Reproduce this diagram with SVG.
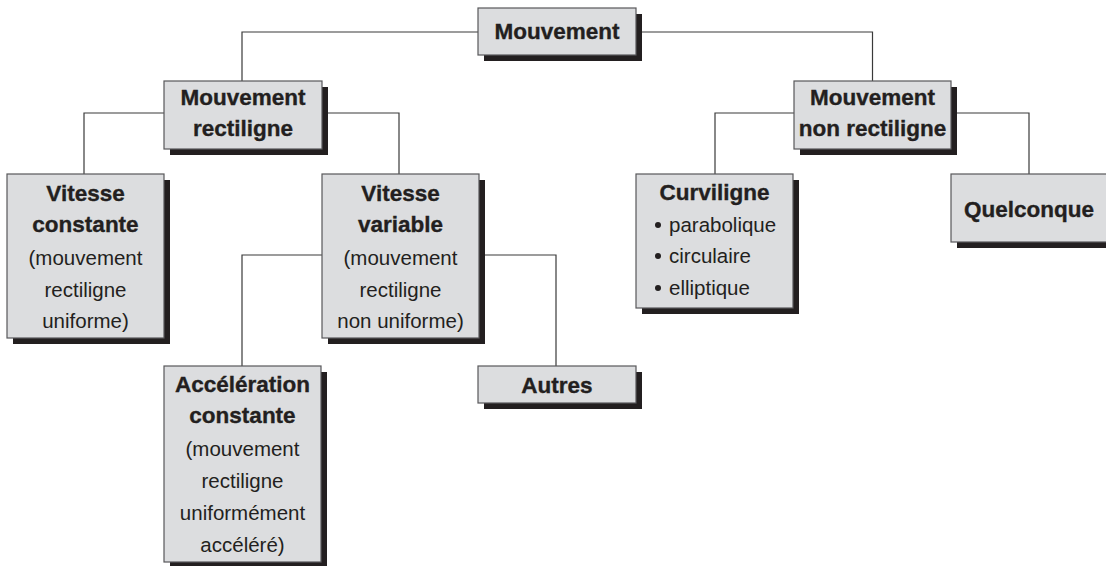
<svg xmlns="http://www.w3.org/2000/svg" width="1106" height="566" viewBox="0 0 1106 566">
  <style>
    .shadow { fill: #231f20; }
    .box { fill: #dcdddf; stroke: #58585a; stroke-width: 1.2; }
    .link { fill: none; stroke: #3a3a3a; stroke-width: 1.2; }
    text { font-family: "Liberation Sans", Arial, sans-serif; fill: #231f20; text-anchor: middle; }
    .h { font-weight: bold; font-size: 22.5px; stroke: #231f20; stroke-width: 0.35; }
    .t { font-size: 20.5px; }
    .b { text-anchor: start; }
    .dot { fill: #231f20; }
  </style>

  <!-- connectors, drawn first so the boxes sit on top -->
  <g id="connectors">
    <polyline class="link" points="478,32 242,32 242,81"/>
    <polyline class="link" points="636,32 872.5,32 872.5,81"/>
    <polyline class="link" points="164,113 84,113 84,174"/>
    <polyline class="link" points="322,113 399,113 399,174"/>
    <polyline class="link" points="322,255 242,255 242,366"/>
    <polyline class="link" points="479,255 556,255 556,366"/>
    <polyline class="link" points="794,113 715,113 715,174"/>
    <polyline class="link" points="951,113 1029,113 1029,174"/>
  </g>

  <g id="mouvement">
    <rect class="shadow" x="484" y="14" width="158" height="47"/>
    <rect class="box" x="478" y="8" width="158" height="47"/>
    <text class="h" x="557" y="39">Mouvement</text>
  </g>

  <g id="mouvement-rectiligne">
    <rect class="shadow" x="170" y="87" width="158" height="68"/>
    <rect class="box" x="164" y="81" width="158" height="68"/>
    <text class="h" x="243" y="105">Mouvement</text>
    <text class="h" x="243" y="136">rectiligne</text>
  </g>

  <g id="mouvement-non-rectiligne">
    <rect class="shadow" x="800" y="87" width="157" height="68"/>
    <rect class="box" x="794" y="81" width="157" height="68"/>
    <text class="h" x="872.5" y="105">Mouvement</text>
    <text class="h" x="872.5" y="136">non rectiligne</text>
  </g>

  <g id="vitesse-constante">
    <rect class="shadow" x="13" y="180" width="157" height="164"/>
    <rect class="box" x="7" y="174" width="157" height="164"/>
    <text class="h" x="85.5" y="201">Vitesse</text>
    <text class="h" x="85.5" y="232">constante</text>
    <text class="t" x="85.5" y="265">(mouvement</text>
    <text class="t" x="85.5" y="297">rectiligne</text>
    <text class="t" x="85.5" y="328">uniforme)</text>
  </g>

  <g id="vitesse-variable">
    <rect class="shadow" x="328" y="180" width="157" height="164"/>
    <rect class="box" x="322" y="174" width="157" height="164"/>
    <text class="h" x="400.5" y="201">Vitesse</text>
    <text class="h" x="400.5" y="232">variable</text>
    <text class="t" x="400.5" y="265">(mouvement</text>
    <text class="t" x="400.5" y="297">rectiligne</text>
    <text class="t" x="400.5" y="328">non uniforme)</text>
  </g>

  <g id="curviligne">
    <rect class="shadow" x="642" y="180" width="157" height="134"/>
    <rect class="box" x="636" y="174" width="157" height="134"/>
    <text class="h" x="714.5" y="200">Curviligne</text>
    <circle class="dot" cx="658" cy="225" r="3"/>
    <text class="t b" x="669" y="232">parabolique</text>
    <circle class="dot" cx="658" cy="256" r="3"/>
    <text class="t b" x="669" y="263">circulaire</text>
    <circle class="dot" cx="658" cy="288" r="3"/>
    <text class="t b" x="669" y="295">elliptique</text>
  </g>

  <g id="quelconque">
    <rect class="shadow" x="957" y="180" width="157" height="68"/>
    <rect class="box" x="951" y="174" width="157" height="68"/>
    <text class="h" x="1029" y="217">Quelconque</text>
  </g>

  <g id="acceleration-constante">
    <rect class="shadow" x="170" y="372" width="157" height="196"/>
    <rect class="box" x="164" y="366" width="157" height="196"/>
    <text class="h" x="242.5" y="392">Accélération</text>
    <text class="h" x="242.5" y="423">constante</text>
    <text class="t" x="242.5" y="456">(mouvement</text>
    <text class="t" x="242.5" y="488">rectiligne</text>
    <text class="t" x="242.5" y="520">uniformément</text>
    <text class="t" x="242.5" y="552">accéléré)</text>
  </g>

  <g id="autres">
    <rect class="shadow" x="484" y="372" width="158" height="37"/>
    <rect class="box" x="478" y="366" width="158" height="37"/>
    <text class="h" x="557" y="393">Autres</text>
  </g>
</svg>
